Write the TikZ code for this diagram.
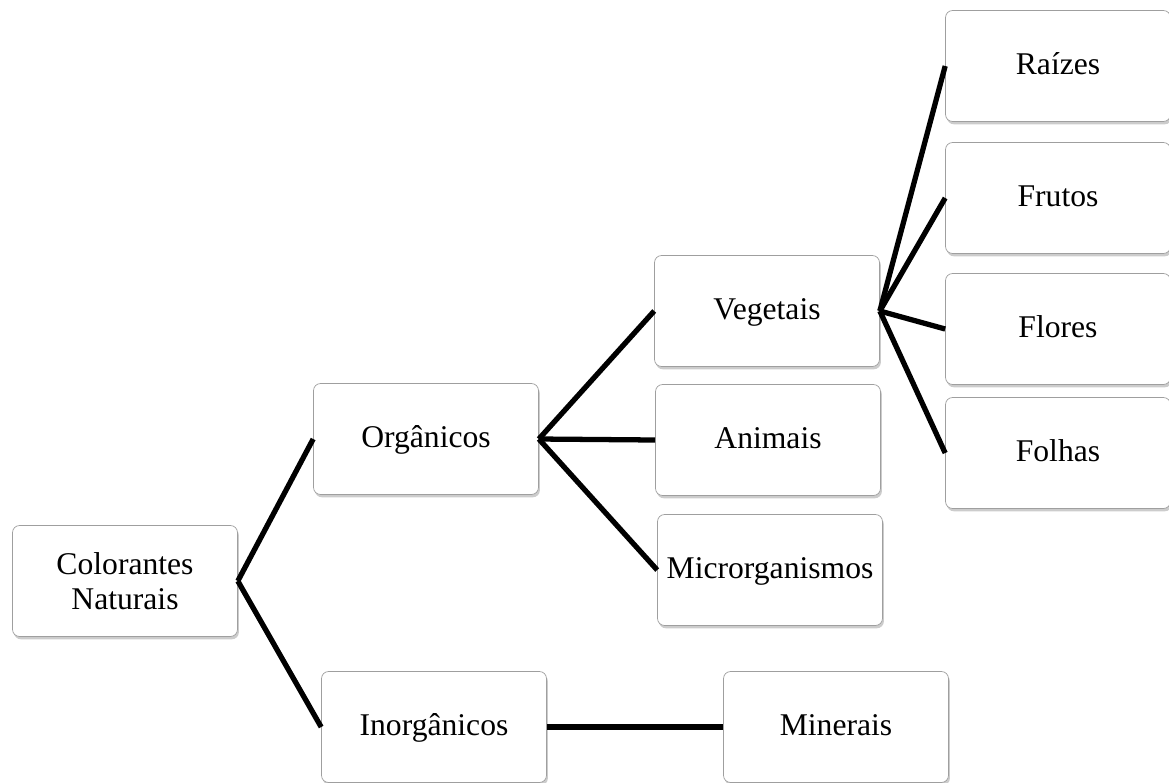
\documentclass[tikz,border=0pt]{standalone}
\usepackage{fontspec}
\setmainfont{Liberation Serif}
\usetikzlibrary{shadows}

\tikzset{
  caixa/.style={draw=gray!75, fill=white, rounded corners=4pt,
    minimum width=4.5cm, minimum height=2.22cm, inner sep=1pt,
    text height=0.95em, text depth=0pt,
    font=\fontsize{18}{20}\selectfont,
    drop shadow={shadow xshift=0.8pt, shadow yshift=-1.6pt, opacity=0.4}},
  ligacao/.style={line width=3pt}
}

\begin{document}
\begin{tikzpicture}[x=0.02cm, y=-0.02cm]
\useasboundingbox (0,0) rectangle (1169,782);

% Racine
\node[caixa, text height=, text depth=, align=center] (col) at (125,581) {Colorantes\\Naturais};

% Premier niveau
\node[caixa] (org) at (426,439) {Orgânicos};
\node[caixa] (inorg) at (434,727) {Inorgânicos};

% Deuxieme niveau
\node[caixa] (veg) at (767,311) {Vegetais};
\node[caixa] (ani) at (768,440) {Animais};
\node[caixa] (mic) at (770,570) {Microrganismos};
\node[caixa] (min) at (836,727) {Minerais};

% Troisieme niveau
\node[caixa] (rai) at (1058,66) {Raízes};
\node[caixa] (fru) at (1058,198) {Frutos};
\node[caixa] (flo) at (1058,329) {Flores};
\node[caixa] (fol) at (1058,453) {Folhas};

% Liaisons
\draw[ligacao] (col.east) -- (org.west);
\draw[ligacao] (col.east) -- (inorg.west);
\draw[ligacao] (inorg.east) -- (min.west);
\foreach \f in {veg,ani,mic}
  \draw[ligacao] (org.east) -- (\f.west);
\foreach \f in {rai,fru,flo,fol}
  \draw[ligacao] (veg.east) -- (\f.west);
\end{tikzpicture}
\end{document}
